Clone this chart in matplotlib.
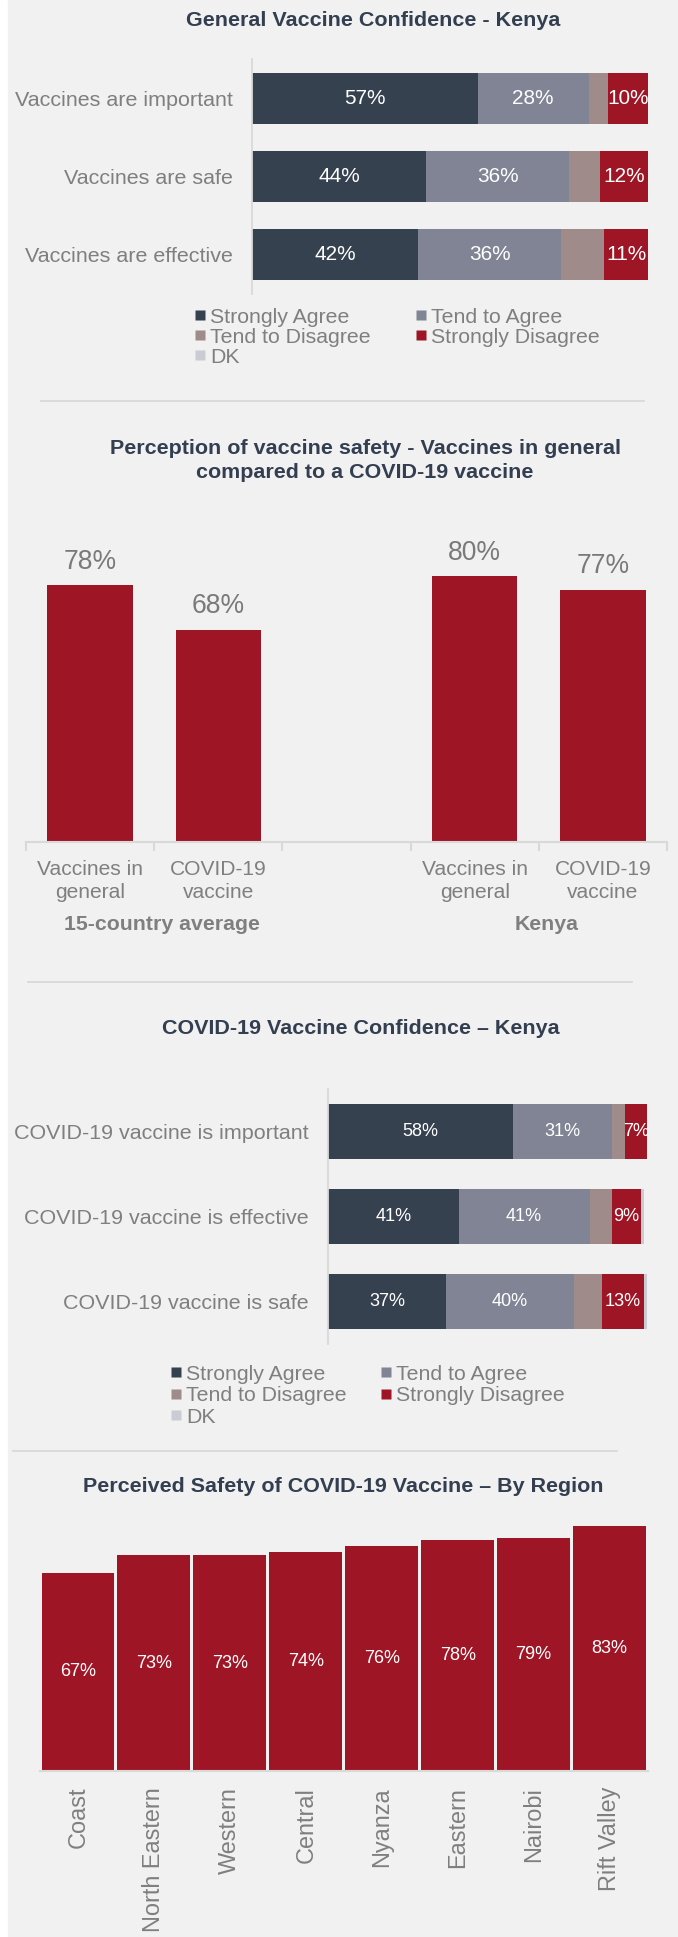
import matplotlib
matplotlib.use('Agg')
import matplotlib.pyplot as plt
from matplotlib.patches import Rectangle
from matplotlib.lines import Line2D
import numpy as np

# ---------------- data ----------------
stack_labels = ['Strongly Agree', 'Tend to Agree', 'Tend to Disagree', 'Strongly Disagree', 'DK']

gen_items = ['Vaccines are important', 'Vaccines are safe', 'Vaccines are effective']
gen_strongly_agree = [57, 44, 42]
gen_tend_agree = [28, 36, 36]
gen_tend_disagree = [5, 8, 11]
gen_strongly_disagree = [10, 12, 11]
gen_dk = [0, 0, 0]

safety_groups = ['15-country average', 'Kenya']
safety_cats = ['Vaccines in\ngeneral', 'COVID-19\nvaccine', '', 'Vaccines in\ngeneral', 'COVID-19\nvaccine']
avg_vals = [78, 68]
kenya_vals = [80, 77]

cov_items = ['COVID-19 vaccine is important', 'COVID-19 vaccine is effective', 'COVID-19 vaccine is safe']
cov_strongly_agree = [58, 41, 37]
cov_tend_agree = [31, 41, 40]
cov_tend_disagree = [4, 7, 9]
cov_strongly_disagree = [7, 9, 13]
cov_dk = [0, 1, 1]

regions = ['Coast', 'North Eastern', 'Western', 'Central', 'Nyanza', 'Eastern', 'Nairobi', 'Rift Valley']
region_vals = [67, 73, 73, 74, 76, 78, 79, 83]

# ---------------- style ----------------
C_SA, C_TA, C_TD, C_SD, C_DK = '#364150', '#808494', '#9f8b89', '#9e1625', '#c9ccd2'
STACK_COLORS = [C_SA, C_TA, C_TD, C_SD, C_DK]
RED = '#9e1625'
BG = '#f1f1f1'
GRAY = '#7f7f7f'
TITLE = '#333f50'
LINE = '#d9d9d9'
FONT = 'Liberation Sans'

W, H, DPI = 678, 1937, 100
fig = plt.figure(figsize=(W / DPI, H / DPI), dpi=DPI, facecolor='white')
plt.rcParams['font.family'] = [FONT, 'DejaVu Sans']


def pt(px):
    return px * 72 / DPI


def add_ax(l, t, r, b):
    ax = fig.add_axes([l / W, 1 - b / H, (r - l) / W, (b - t) / H])
    ax.set_facecolor('none')
    return ax


def hline(y, x0, x1):
    fig.add_artist(Line2D([x0 / W, x1 / W], [1 - y / H, 1 - y / H], color=LINE, lw=1.3))


def title(text, x, y, ls=1.2):
    fig.text(x / W, 1 - y / H, text, ha='center', va='center', fontsize=pt(21.5),
             fontweight='bold', color=TITLE, linespacing=ls)


def col_legend(labels, colors, x, row1_center, row_px, fs_px=21.3):
    handles = [Line2D([], [], marker='s', linestyle='none', markersize=pt(10),
                      markerfacecolor=c, markeredgecolor='none') for c in colors]
    ls = (row_px - 0.94 * fs_px) / fs_px
    top = row1_center - 0.34 * fs_px
    fig.legend(handles, labels, loc='upper left', bbox_to_anchor=(x / W, 1 - top / H),
               frameon=False, borderpad=0, borderaxespad=0, handlelength=10 / fs_px,
               handletextpad=5 / fs_px, labelspacing=ls,
               prop=dict(size=pt(fs_px)), labelcolor=GRAY)


fig.patches.append(Rectangle((8 / W, 0), 1 - 8 / W, 1, transform=fig.transFigure,
                             color=BG, zorder=-10))


def stacked(ax, items, series, show, label_px, ypad_px):
    y = np.arange(len(items))
    left = np.zeros(len(items))
    for vals, color, s in zip(series, STACK_COLORS, show):
        vals = np.array(vals, float)
        bars = ax.barh(y, vals, left=left, height=0.65, color=color, edgecolor='none')
        if s:
            ax.bar_label(bars, labels=[f'{v:.0f}%' if v > 0 else '' for v in vals],
                         label_type='center', color='white', fontsize=pt(label_px))
        left += vals
    ax.set_xlim(0, 100)
    ax.set_ylim(len(items) - 0.5, -0.5)
    ax.set_yticks(y, items)
    ax.set_xticks([])
    for s in ['top', 'right', 'bottom']:
        ax.spines[s].set_visible(False)
    ax.spines['left'].set_color(LINE)
    ax.spines['left'].set_linewidth(1.3)
    ax.tick_params(axis='y', length=0, pad=pt(ypad_px), labelsize=pt(21.5), labelcolor=GRAY)


# ---------------- panel 1 ----------------
title('General Vaccine Confidence - Kenya', 373, 21)
ax1 = add_ax(252, 59, 648, 294)
stacked(ax1, gen_items,
        [gen_strongly_agree, gen_tend_agree, gen_tend_disagree, gen_strongly_disagree, gen_dk],
        [True, True, False, True, False], 20.8, 19)
col_legend([stack_labels[0], stack_labels[2], stack_labels[4]], [C_SA, C_TD, C_DK], 195, 315, 21)
col_legend([stack_labels[1], stack_labels[3]], [C_TA, C_SD], 416, 315, 21)
hline(401, 41, 644)

# ---------------- panel 2 ----------------
title('Perception of vaccine safety - Vaccines in general\ncompared to a COVID-19 vaccine',
      365, 460.5, ls=1.3)
ax2 = add_ax(26, 488, 667, 842)
b_avg = ax2.bar([0, 1], avg_vals, width=0.667, color=RED)
b_ken = ax2.bar([3, 4], kenya_vals, width=0.667, color=RED)
for bars, vals in [(b_avg, avg_vals), (b_ken, kenya_vals)]:
    ax2.bar_label(bars, labels=[f'{v}%' for v in vals], padding=pt(10.5), color='#7a7a7a',
                  fontsize=pt(26.5))
ax2.set_xlim(-0.5, 4.5)
ax2.set_ylim(20, 100)
ax2.set_yticks([])
for s in ['top', 'right', 'left']:
    ax2.spines[s].set_visible(False)
ax2.spines['bottom'].set_color(LINE)
ax2.spines['bottom'].set_linewidth(1.5)
ax2.set_xticks(np.arange(-0.5, 5.0, 1.0), [''] * 6)
ax2.set_xticks(np.arange(5), safety_cats, minor=True)
ax2.tick_params(axis='x', which='major', length=6.4, width=1.5, color=LINE)
ax2.tick_params(axis='x', which='minor', length=0, pad=pt(18), labelsize=pt(21), labelcolor=GRAY)
for t in ax2.get_xticklabels(minor=True):
    t.set_linespacing(1.27)
for gx, g in zip([0.56, 3.56], safety_groups):
    ax2.annotate(g, xy=(gx, 0), xycoords=('data', 'axes fraction'), xytext=(0, -pt(82)),
                 textcoords='offset points', ha='center', va='center', fontsize=pt(21.3),
                 fontweight='bold', color=GRAY)
hline(982, 28, 632)

# ---------------- panel 3 ----------------
title('COVID-19 Vaccine Confidence \u2013 Kenya', 361, 1029)
ax3 = add_ax(328, 1089, 647, 1344)
stacked(ax3, cov_items,
        [cov_strongly_agree, cov_tend_agree, cov_tend_disagree, cov_strongly_disagree, cov_dk],
        [True, True, False, True, False], 18.2, 19)
col_legend([stack_labels[0], stack_labels[2], stack_labels[4]], [C_SA, C_TD, C_DK], 171, 1372, 22.5)
col_legend([stack_labels[1], stack_labels[3]], [C_TA, C_SD], 381, 1372, 22.5)
hline(1451, 13, 617)

# ---------------- panel 4 ----------------
title('Perceived Safety of COVID-19 Vaccine \u2013 By Region', 343, 1487)
ax4 = add_ax(40, 1505, 647.5, 1771)
x4 = np.arange(len(regions))
b4 = ax4.bar(x4, region_vals, width=0.96, color=RED, edgecolor='none')
ax4.bar_label(b4, labels=[f'{v}%' for v in region_vals], label_type='center',
              color='white', fontsize=pt(18.2))
ax4.set_xlim(-0.5, len(regions) - 0.5)
ax4.set_ylim(0, 90)
ax4.set_yticks([])
for s in ['top', 'right', 'left']:
    ax4.spines[s].set_visible(False)
ax4.spines['bottom'].set_color(LINE)
ax4.spines['bottom'].set_linewidth(1.5)
ax4.set_xticks(x4, regions, rotation=90)
ax4.tick_params(axis='x', length=0, pad=pt(16), labelsize=pt(23.5), labelcolor=GRAY)

fig.savefig('out.png', dpi=DPI, facecolor=fig.get_facecolor())
